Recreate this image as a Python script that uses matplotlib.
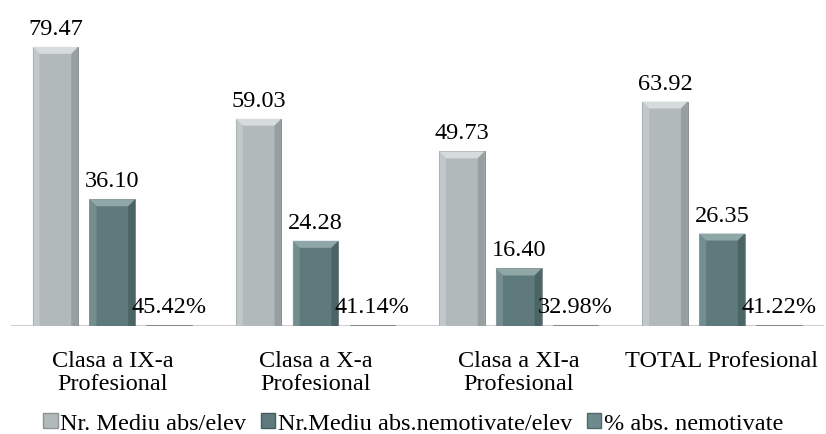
import matplotlib.pyplot as plt
import numpy as np
from matplotlib.patches import Polygon, Rectangle

plt.rcParams['font.family'] = ['Liberation Serif', 'DejaVu Serif']

# --- Data ---
categories = ["Clasa a IX-a\nProfesional", "Clasa a X-a\nProfesional",
              "Clasa a XI-a\nProfesional", "TOTAL Profesional"]
series_names = ["Nr. Mediu abs/elev", "Nr.Mediu abs.nemotivate/elev", "% abs. nemotivate"]
mediu_abs = [79.47, 59.03, 49.73, 63.92]
mediu_nemot = [36.10, 24.28, 16.40, 26.35]
pct_nemot = [0.4542, 0.4114, 0.3298, 0.4122]
values = [mediu_abs, mediu_nemot, pct_nemot]
labels = [[f"{v:.2f}" for v in mediu_abs],
          [f"{v:.2f}" for v in mediu_nemot],
          [f"{v * 100:.2f}%" for v in pct_nemot]]

colors = ["#b1b9bb", "#5e7a7c", "#6d8a8c"]
light = ["#d6dbdc", "#90a7a8", "#9ab0b1"]
dark = ["#8c9496", "#445c5e", "#506a6c"]

FS = 17.5

fig = plt.figure(figsize=(8.26, 4.35), dpi=100)
ax_rect = [0.013, 0.248, 0.984, 0.727]
ax = fig.add_axes(ax_rect)

x = np.arange(len(categories))
width = 0.225
step = 0.28
ymax = 90
ax.set_xlim(-0.5, len(categories) - 0.5)
ax.set_ylim(0, ymax)

# bevel size in data units (about 7 px)
ax_w_px = ax_rect[2] * 826
ax_h_px = ax_rect[3] * 435
bx = 7 * len(categories) / ax_w_px
by = 7 * ymax / ax_h_px
label_gap = 13 * ymax / ax_h_px

for i, vals in enumerate(values):
    pos = x + (i - 1) * step
    bars = ax.bar(pos, vals, width, color=colors[i], edgecolor="#7d8587", linewidth=0.6, zorder=2)
    for b, lab in zip(bars, labels[i]):
        x0, w, h = b.get_x(), b.get_width(), b.get_height()
        if h > 2 * by:
            # top bevel
            ax.add_patch(Polygon([[x0, h], [x0 + w, h], [x0 + w - bx, h - by], [x0 + bx, h - by]],
                                 closed=True, facecolor=light[i], edgecolor="none", zorder=3))
            # left edge
            ax.add_patch(Polygon([[x0, 0], [x0, h], [x0 + bx, h - by], [x0 + bx, 0]],
                                 closed=True, facecolor=light[i], alpha=0.45, edgecolor="none", zorder=3))
            # right edge
            ax.add_patch(Polygon([[x0 + w, 0], [x0 + w, h], [x0 + w - bx, h - by], [x0 + w - bx, 0]],
                                 closed=True, facecolor=dark[i], alpha=0.7, edgecolor="none", zorder=3))
        ax.text(b.get_x() + w / 2, h + label_gap, lab, ha="center", va="baseline", fontsize=FS, zorder=4)

ax.axhline(0, color="#d0d0d0", linewidth=1.5, zorder=1)
for s in ax.spines.values():
    s.set_visible(False)
ax.set_yticks([])
ax.set_xticks(x)
ax.set_xticklabels(categories, fontsize=FS, linespacing=1.15)
ax.tick_params(axis="x", length=0, pad=17)

handles = [Rectangle((0, 0), 1, 1, facecolor=colors[i], edgecolor=dark[i]) for i in range(3)]
fig.legend(handles, series_names, loc="lower center", bbox_to_anchor=(0.5, 0.0), ncol=3,
           frameon=False, fontsize=FS, handlelength=0.6, handleheight=0.6,
           handletextpad=0.1, columnspacing=0.6, borderpad=0.0, borderaxespad=0.0)

fig.savefig("out.png", dpi=100)
